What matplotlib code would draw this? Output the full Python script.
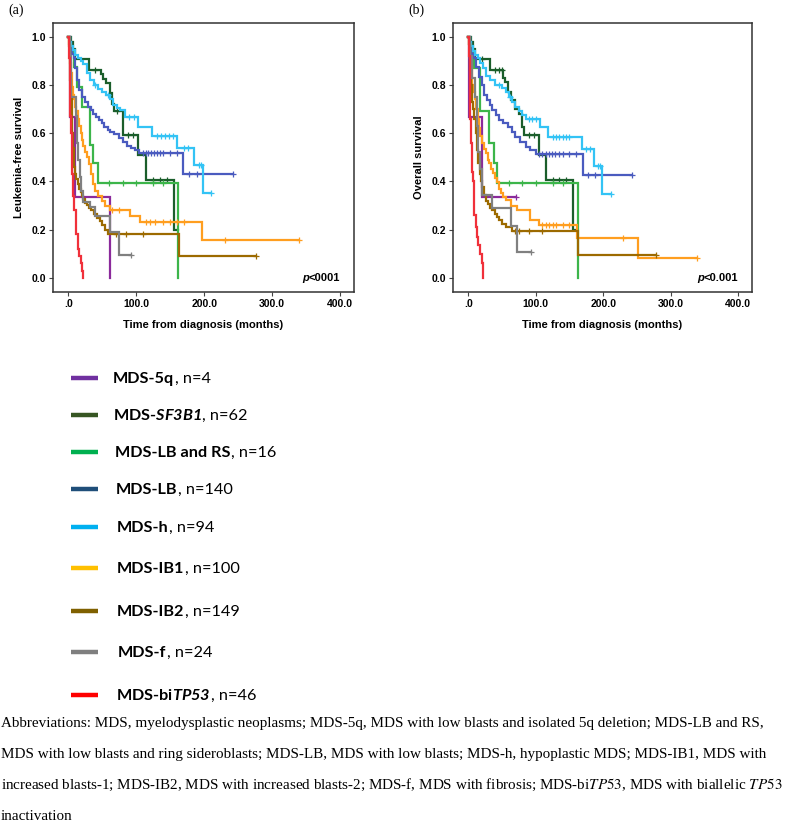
import numpy as np
import matplotlib
matplotlib.use("Agg")
import matplotlib.pyplot as plt
from matplotlib.lines import Line2D

# groups, in legend order
GROUPS = ["MDS-5q", "MDS-SF3B1", "MDS-LB and RS", "MDS-LB", "MDS-h",
          "MDS-IB1", "MDS-IB2", "MDS-f", "MDS-biTP53"]
N_CASES = [4, 62, 16, 140, 94, 100, 149, 24, 46]
PLOT_COLORS = ["#8B2A9B", "#1B5E2B", "#3CB54A", "#4A5BBF", "#33C3F5",
               "#FF9E1F", "#9C6A00", "#808080", "#F0303A"]
LEGEND_COLORS = ["#7030A0", "#375623", "#00B050", "#1F4E79", "#00B0F0",
                 "#FFC000", "#7F6000", "#7F7F7F", "#FF0000"]

# (a) leukemia-free survival: step times (months), survival, censor times
LFS_T = [
    [0, 2, 10, 62],
    [0, 4, 7, 10, 31, 48, 51, 56, 61, 65, 68, 81, 103, 114, 155, 161],
    [0, 3, 8, 13, 20, 32, 37, 43, 162],
    [0, 2, 4, 6, 8, 10, 13, 16, 20, 24, 29, 33, 37, 41, 45, 49, 53, 58, 62, 68,
     74, 80, 86, 92, 98, 104, 169, 243],
    [0, 2, 4, 7, 10, 14, 18, 22, 27, 32, 38, 44, 50, 56, 61, 66, 71, 76, 83,
     103, 123, 160, 185, 199, 210],
    [0, 1, 2, 3, 4, 5, 6, 7, 8, 10, 12, 14, 16, 18, 20, 22, 24, 27, 30, 33, 36,
     40, 44, 49, 54, 61, 91, 106, 197, 339],
    [0, 1, 2, 3, 4, 5, 6, 7, 8, 9, 10, 12, 14, 16, 18, 20, 22, 25, 28, 31, 34,
     38, 42, 46, 50, 54, 58, 163, 277],
    [0, 2, 4, 11, 13, 15, 17, 19, 22, 32, 40, 62, 74, 92],
    [0, 1, 2, 3, 4, 5, 6, 7, 9, 11, 12, 14, 16, 18, 20, 21],
]
LFS_S = [
    [1, 0.667, 0.333, 0.0],
    [1, 0.98, 0.95, 0.906, 0.862, 0.845, 0.825, 0.806, 0.765, 0.72, 0.69, 0.592,
     0.509, 0.405, 0.20, 0.20],
    [1, 0.94, 0.875, 0.79, 0.71, 0.55, 0.476, 0.394, 0.0],
    [1, 0.98, 0.95, 0.93, 0.91, 0.87, 0.82, 0.78, 0.75, 0.73, 0.71, 0.695, 0.68,
     0.665, 0.655, 0.64, 0.625, 0.615, 0.605, 0.595, 0.58, 0.565, 0.548, 0.54,
     0.53, 0.518, 0.43, 0.43],
    [1, 0.98, 0.96, 0.945, 0.925, 0.91, 0.9, 0.885, 0.85, 0.82, 0.8, 0.785,
     0.77, 0.758, 0.74, 0.717, 0.705, 0.696, 0.668, 0.627, 0.588, 0.539, 0.468,
     0.35, 0.35],
    [1, 0.97, 0.93, 0.89, 0.85, 0.82, 0.79, 0.76, 0.74, 0.71, 0.69, 0.66, 0.63,
     0.6, 0.57, 0.545, 0.52, 0.5, 0.47, 0.43, 0.39, 0.36, 0.34, 0.32, 0.297,
     0.28, 0.256, 0.232, 0.156, 0.156],
    [1, 0.96, 0.9, 0.82, 0.74, 0.67, 0.6, 0.54, 0.5, 0.46, 0.43, 0.41, 0.39,
     0.37, 0.355, 0.34, 0.325, 0.31, 0.3, 0.29, 0.28, 0.265, 0.25, 0.235, 0.22,
     0.2, 0.18, 0.09, 0.09],
    [1, 0.92, 0.75, 0.67, 0.56, 0.49, 0.42, 0.36, 0.315, 0.295, 0.256, 0.19,
     0.094, 0.094],
    [1, 0.91, 0.8, 0.67, 0.6, 0.52, 0.43, 0.34, 0.28, 0.22, 0.18, 0.12, 0.09,
     0.06, 0.03, 0.0],
]
LFS_CENS = [
    [],
    [40, 72, 88, 95, 125, 135, 145],
    [60, 80, 100, 125, 140],
    [110, 114, 118, 122, 126, 130, 135, 140, 150, 160, 177, 190, 243],
    [40, 58, 90, 97, 130, 136, 142, 148, 154, 170, 176, 192, 196, 210],
    [65, 75, 115, 120, 128, 140, 150, 160, 170, 230, 339],
    [70, 85, 110, 277],
    [92],
    [],
]

# (b) overall survival
OS_T = [
    [0, 1, 21, 71],
    [0, 4, 7, 10, 33, 51, 55, 59, 63, 70, 76, 80, 83, 105, 115, 155, 161],
    [0, 3, 8, 18, 31, 38, 43, 162],
    [0, 2, 4, 6, 9, 12, 16, 20, 24, 28, 32, 36, 41, 46, 52, 59, 65, 70, 77, 85,
     92, 100, 170, 243],
    [0, 2, 4, 7, 10, 14, 18, 22, 26, 32, 40, 50, 56, 60, 65, 70, 75, 80, 85,
     107, 118, 168, 186, 198, 211],
    [0, 1, 2, 3, 4, 5, 6, 8, 10, 12, 14, 16, 18, 21, 24, 26, 29, 31, 34, 37, 40,
     43, 46, 48, 52, 56, 63, 73, 92, 105, 161, 251, 339],
    [0, 1, 2, 3, 4, 5, 6, 7, 9, 11, 13, 15, 17, 19, 21, 24, 27, 30, 33, 36, 40,
     43, 46, 50, 56, 65, 163, 279],
    [0, 3, 6, 10, 13, 15, 17, 20, 36, 64, 73, 93],
    [0, 1, 2, 3, 4, 5, 6, 7, 8, 9, 11, 13, 15, 18, 20, 21.7],
]
OS_S = [
    [1, 0.667, 0.333, 0.333],
    [1, 0.98, 0.95, 0.906, 0.862, 0.83, 0.81, 0.772, 0.737, 0.7, 0.68, 0.625,
     0.592, 0.509, 0.405, 0.2, 0.2],
    [1, 0.94, 0.87, 0.69, 0.557, 0.474, 0.394, 0.0],
    [1, 0.98, 0.95, 0.93, 0.91, 0.875, 0.834, 0.8, 0.76, 0.737, 0.715, 0.696,
     0.675, 0.655, 0.64, 0.627, 0.605, 0.585, 0.565, 0.544, 0.53, 0.512, 0.426,
     0.426],
    [1, 0.98, 0.96, 0.94, 0.925, 0.91, 0.89, 0.87, 0.835, 0.82, 0.8, 0.786,
     0.77, 0.75, 0.73, 0.71, 0.69, 0.675, 0.66, 0.627, 0.583, 0.534, 0.463,
     0.347, 0.347],
    [1, 0.97, 0.94, 0.91, 0.875, 0.84, 0.8, 0.77, 0.74, 0.7, 0.66, 0.62, 0.59,
     0.557, 0.535, 0.516, 0.49, 0.474, 0.45, 0.433, 0.415, 0.398, 0.37, 0.35,
     0.335, 0.322, 0.297, 0.28, 0.24, 0.218, 0.163, 0.083, 0.083],
    [1, 0.97, 0.92, 0.86, 0.8, 0.765, 0.73, 0.7, 0.66, 0.6, 0.53, 0.474, 0.43,
     0.4, 0.375, 0.345, 0.32, 0.305, 0.29, 0.28, 0.265, 0.253, 0.24, 0.225,
     0.21, 0.192, 0.094, 0.094],
    [1, 0.92, 0.83, 0.75, 0.63, 0.52, 0.45, 0.345, 0.288, 0.215, 0.108, 0.108],
    [1, 0.92, 0.8, 0.66, 0.56, 0.5, 0.44, 0.4, 0.33, 0.26, 0.21, 0.17, 0.136,
     0.1, 0.06, 0.0],
]
OS_CENS = [
    [71],
    [20, 40, 45, 50, 90, 98, 125, 135, 145],
    [60, 80, 100, 125, 140],
    [105, 110, 115, 120, 124, 128, 135, 140, 150, 160, 178, 188, 243],
    [45, 62, 90, 95, 100, 125, 130, 135, 140, 145, 150, 175, 180, 192, 196, 211],
    [110, 115, 120, 125, 130, 140, 150, 230, 339],
    [70, 75, 90, 110, 279],
    [93],
    [],
]

X_TICKS = [0, 100, 200, 300, 400]
X_TICK_LABELS = [".0", "100.0", "200.0", "300.0", "400.0"]
Y_TICKS = [0.0, 0.2, 0.4, 0.6, 0.8, 1.0]
Y_TICK_LABELS = ["0.0", "0.2", "0.4", "0.6", "0.8", "1.0"]

# legend labels with the gene names in italics (mathtext)
LEGEND_NAMES = ["MDS-5q", r"MDS-$\mathit{SF3B1}$", "MDS-LB and RS", "MDS-LB",
                "MDS-h", "MDS-IB1", "MDS-IB2", "MDS-f", r"MDS-bi$\mathit{TP53}$"]

FOOTNOTE = [
    "Abbreviations: MDS, myelodysplastic neoplasms; MDS-5q, MDS with low blasts and isolated 5q deletion; MDS-LB and RS,",
    "MDS with low blasts and ring sideroblasts; MDS-LB, MDS with low blasts; MDS-h, hypoplastic MDS; MDS-IB1, MDS with",
    r"increased blasts-1; MDS-IB2, MDS with increased blasts-2; MDS-f, MDS with fibrosis; MDS-bi$\mathit{TP53}$, MDS with biallelic $\mathit{TP53}$",
    "inactivation",
]

W, H = 790, 834
SANS = "Liberation Sans"
SERIF = "Liberation Serif"
LEG_FONT = "Lato"

# italic gene names in the legend: letters and digits in bold italic Lato
plt.rcParams["mathtext.fontset"] = "custom"
plt.rcParams["mathtext.it"] = "Lato:italic:bold"
plt.rcParams["mathtext.rm"] = "Lato:italic:bold"

fig = plt.figure(figsize=(W / 100, H / 100), dpi=100)
renderer = fig.canvas.get_renderer()


def fx(x):
    return x / W


def fy(y):
    return 1 - y / H


def draw_panel(ax, times, survs, cens, ylabel, ptext):
    for t, s, c, col in zip(times, survs, cens, PLOT_COLORS):
        t = np.asarray(t, float)
        s = np.asarray(s, float)
        ax.step(t, s, where="post", color=col, lw=1.6, solid_joinstyle="miter")
        if c:
            idx = np.searchsorted(t, c, side="right") - 1
            ax.plot(c, s[idx], ls="none", marker="+", ms=4.5, mew=0.9, color=col)
    ax.set_xlim(-22.5, 420.5)
    ax.set_ylim(-0.059, 1.058)
    ax.set_xticks(X_TICKS)
    ax.set_xticklabels(X_TICK_LABELS)
    ax.set_yticks(Y_TICKS)
    ax.set_yticklabels(Y_TICK_LABELS)
    ax.tick_params(direction="out", length=3, width=0.8, color="#444444",
                   labelsize=7.5, pad=2)
    for lab in ax.get_xticklabels() + ax.get_yticklabels():
        lab.set_fontweight("bold")
        lab.set_fontfamily(SANS)
    for sp in ax.spines.values():
        sp.set_color("#333333")
        sp.set_linewidth(1.1)
    ax.set_xlabel("Time from diagnosis (months)", fontsize=8, fontweight="bold",
                  family=SANS, labelpad=8)
    ax.set_ylabel(ylabel, fontsize=8, fontweight="bold", family=SANS, labelpad=5)
    t1 = ax.text(400, 0.0, ptext, ha="right", va="center", fontsize=8,
                 fontweight="bold", family=SANS)
    ax.annotate("p", xy=(0, 0.5), xycoords=t1, ha="right", va="center",
                fontsize=8, fontweight="bold", fontstyle="italic", family=SANS)


ax_a = fig.add_axes([fx(53), fy(292), 301 / W, 269.3 / H])
ax_b = fig.add_axes([fx(453), fy(292), 299 / W, 269.3 / H])
draw_panel(ax_a, LFS_T, LFS_S, LFS_CENS, "Leukemia-free survival", "<0001")
draw_panel(ax_b, OS_T, OS_S, OS_CENS, "Overall survival", "<0.001")

fig.text(fx(8), fy(10), "(a)", fontsize=10, family=SERIF, va="center")
fig.text(fx(408), fy(10), "(b)", fontsize=10, family=SERIF, va="center")

# legend
LEG_Y = [378, 415, 452, 489, 527, 568, 611, 652, 695]
LEG_TX = [113, 113, 115, 116, 117, 117, 117, 118, 116]
for name, n, col, y, tx in zip(LEGEND_NAMES, N_CASES, LEGEND_COLORS, LEG_Y, LEG_TX):
    fig.add_artist(Line2D([fx(71), fx(98)], [fy(y), fy(y)], color=col, lw=3.2,
                          transform=fig.transFigure, solid_capstyle="butt"))
    t = fig.text(fx(tx), fy(y + 5), name, fontsize=11.7, family=LEG_FONT,
                 weight="bold", va="baseline", ha="left", math_fontfamily="custom")
    bb = t.get_window_extent(renderer)
    fig.text(fx(bb.x1 + 0.5), fy(y + 5), ", n=%d" % n, fontsize=11.7,
             family=LEG_FONT, va="baseline", ha="left")

# footnote
FOOT_Y = [727, 758, 789, 820]
for y, line in zip(FOOT_Y, FOOTNOTE):
    fig.text(fx(1), fy(y), line, fontsize=10.9, family=SERIF, va="baseline",
             ha="left", math_fontfamily="stix")

fig.savefig("out.png", dpi=100)
